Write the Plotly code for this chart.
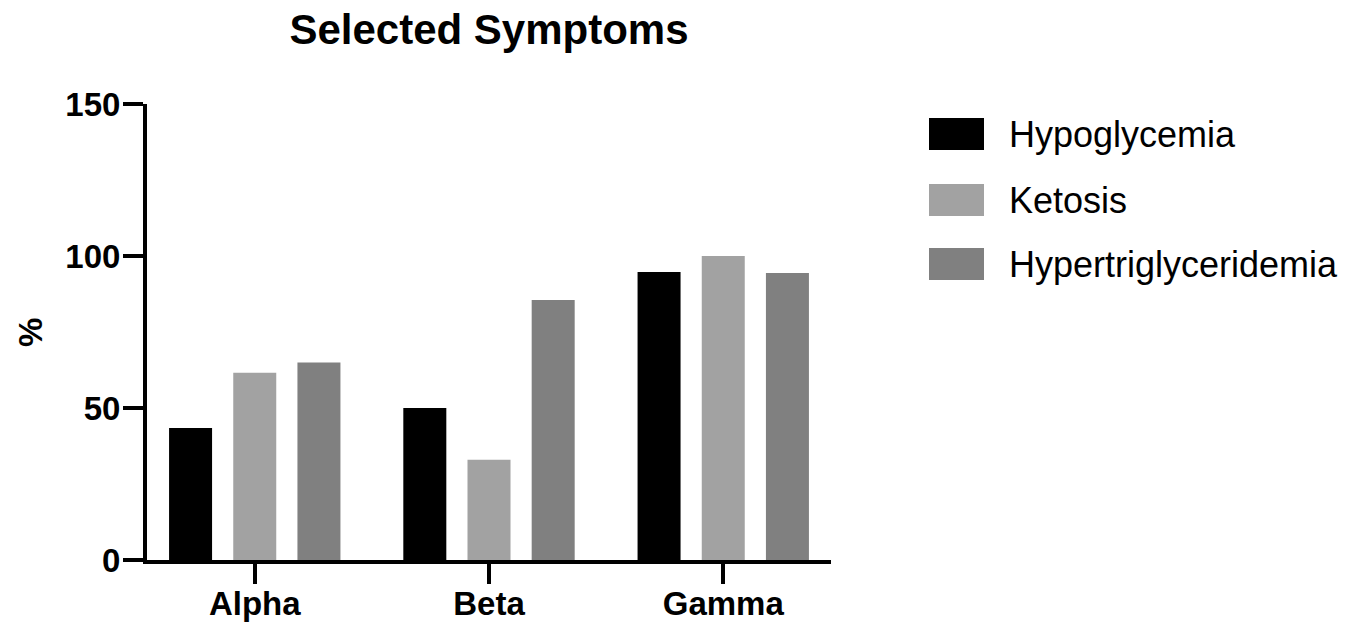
import plotly.graph_objects as go

categories = ["Alpha", "Beta", "Gamma"]
series_names = ["Hypoglycemia", "Ketosis", "Hypertriglyceridemia"]
hypoglycemia = [43.4, 50.0, 94.7]
ketosis = [61.6, 33.0, 100.0]
hypertriglyceridemia = [65.0, 85.5, 94.4]
y_ticks = [0, 50, 100, 150]

series_values = [hypoglycemia, ketosis, hypertriglyceridemia]
colors = ["#000000", "#a2a2a2", "#808080"]

FONT = "Liberation Sans, Arial, Helvetica, sans-serif"

fig = go.Figure()
for name, vals, col in zip(series_names, series_values, colors):
    fig.add_trace(go.Bar(x=categories, y=vals, name=name,
                         marker=dict(color=col, line=dict(width=0)),
                         showlegend=False))

W, H = 1365, 627
L, R, T, B = 147, 831, 104, 560
pw, ph = R - L, B - T

def px_x(x):
    return (x - L) / pw

def px_y(y):
    return (B - y) / ph

# custom legend built from the series names
leg_centers = [134, 200, 264]
for name, col, cy in zip(series_names, colors, leg_centers):
    fig.add_shape(type="rect", xref="paper", yref="paper",
                  x0=px_x(929), x1=px_x(984), y0=px_y(cy + 16), y1=px_y(cy - 16),
                  fillcolor=col, line=dict(width=0))
    fig.add_annotation(text=name, xref="paper", yref="paper",
                       x=px_x(1007), y=px_y(cy), xanchor="left", yanchor="middle",
                       showarrow=False, font=dict(family=FONT, size=36, color="#000"))

fig.add_annotation(text="%", xref="paper", yref="paper", x=px_x(30), y=px_y(333),
                   xanchor="center", yanchor="middle", textangle=-90, showarrow=False,
                   font=dict(family=FONT, size=33, color="#000", weight="bold"))

fig.update_layout(
    width=W, height=H,
    margin=dict(l=L, r=W - R, t=T, b=H - B, pad=0, autoexpand=False),
    paper_bgcolor="white", plot_bgcolor="white",
    barmode="group", bargap=0.178, bargroupgap=0.33,
    title=dict(text="Selected Symptoms", x=0.5, xref="paper", xanchor="center",
               y=1 - 15 / H, yref="container", yanchor="top",
               font=dict(family=FONT, size=42, color="#000", weight="bold")),
    font=dict(family=FONT, color="#000"),
)
fig.update_xaxes(range=[-0.46, 2.46], showline=True, linecolor="#000", linewidth=4,
                 ticks="outside", ticklen=20, tickwidth=4, tickcolor="#000",
                 showgrid=False, zeroline=False, automargin=False, ticklabelstandoff=-9,
                 tickfont=dict(family=FONT, size=33, color="#000", weight="bold"))
fig.update_yaxes(range=[0, 150], tickvals=y_ticks, showline=True, linecolor="#000",
                 linewidth=4, ticks="outside", ticklen=20, tickwidth=4, tickcolor="#000",
                 showgrid=False, zeroline=False, ticklabelstandoff=-4, automargin=False,
                 tickfont=dict(family=FONT, size=33, color="#000", weight="bold"))

fig.write_html("out.html", config={"displayModeBar": False},
               post_script="document.body.style.margin='0';document.body.style.overflow='hidden';")
